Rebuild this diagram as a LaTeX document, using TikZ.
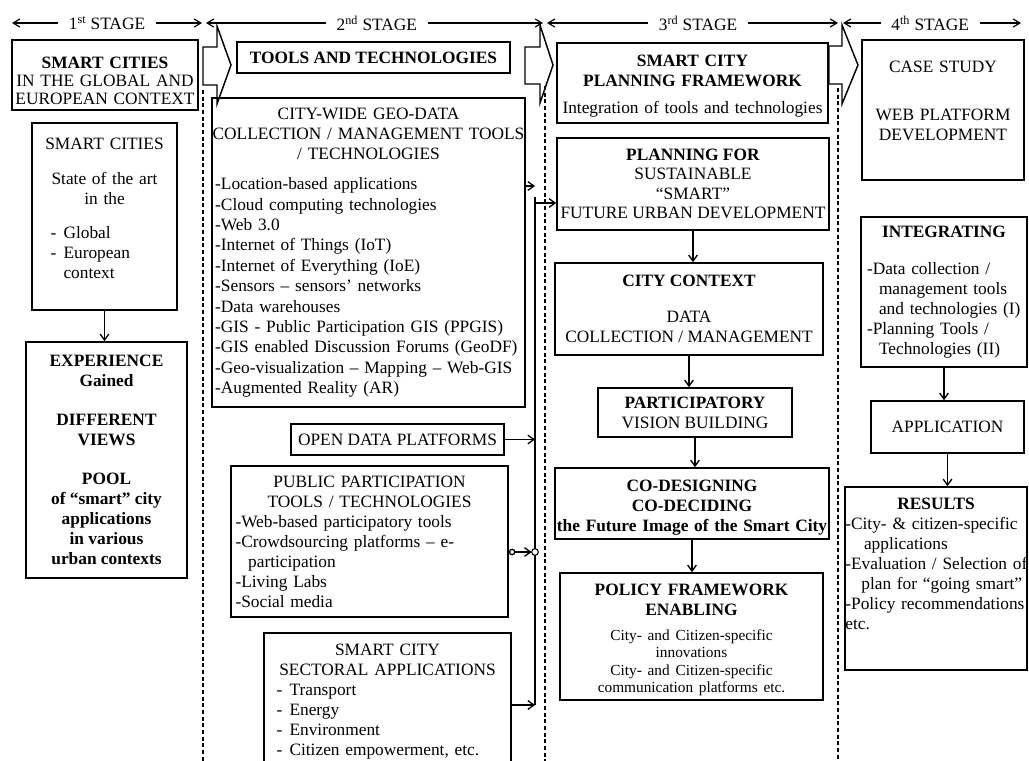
\documentclass[tikz,border=0pt]{standalone}
\usepackage{fontspec}
\setmainfont{Liberation Serif}
\usetikzlibrary{arrows.meta,calc}
\newcommand\dsh{-\hspace{0.42em}}
\newcommand\myc[1]{\makebox[\linewidth][c]{#1}\par}
\newcommand\myl[1]{\makebox[\linewidth][l]{#1}\par}
\newcommand\topgap[1]{\hrule height 0pt\vspace{#1}}
\newcommand\botgap[1]{\vspace{#1}\hrule height 0pt}
\begin{document}
\begin{tikzpicture}[x=0.75pt,y=-0.75pt,
  rect/.style n args={4}{minimum width={(#3-(#1))*0.75pt}, minimum height={(#4-(#2))*0.75pt}, at={({(#1+#3)/2},{(#2+#4)/2})}},
  box/.style={draw, line width=1.2pt, inner sep=0pt, font=\fontsize{13}{15}\selectfont},
  cbox/.style={box, align=center},
  conn/.style={line width=1pt},
  arr/.style={conn, -{Straight Barb[length=4.5pt,width=6.5pt]}},
  stage/.style={line width=0.9pt, {Straight Barb[length=5pt,width=6pt]}-{Straight Barb[length=5pt,width=6pt]}},
  stagelbl/.style={fill=white, inner xsep=8pt, inner ysep=1pt, font=\fontsize{13}{15}\selectfont},
  blk/.style={line width=1.1pt, line join=miter},
  sepline/.style={line width=1pt, dash pattern=on 3pt off 2pt},
  jcirc/.style={circle, draw, line width=0.8pt, fill=white, inner sep=0pt, minimum size=5pt}
]
\useasboundingbox (0,0) rectangle (1029,761);
\fill[white] (0,0) rectangle (1029,761);

% ---------- stage arrows ----------
\coordinate (s1a) at (12,23);  \coordinate (s1b) at (202,23);
\coordinate (s2a) at (206,23); \coordinate (s2b) at (543,23);
\coordinate (s3a) at (547,23); \coordinate (s3b) at (838,23);
\coordinate (s4a) at (843,23); \coordinate (s4b) at (1021,23);
\draw[stage] (s1a) -- node[stagelbl, pos=0.5] (st1) {1\textsuperscript{st} STAGE} (s1b);
\draw[stage] (s2a) -- node[stagelbl, pos=0.507] (st2) {2\textsuperscript{nd} STAGE} (s2b);
\draw[stage] (s3a) -- node[stagelbl, pos=0.519] (st3) {3\textsuperscript{rd} STAGE} (s3b);
\draw[stage] (s4a) -- node[stagelbl, pos=0.49] (st4) {4\textsuperscript{th} STAGE} (s4b);

% ---------- block arrows and separators ----------
\draw[blk] (203,47) -- (217,47) -- (217,26) -- (231,65) -- (217,104) -- (217,85) -- (203,85) -- cycle;
\draw[blk] (525,47) -- (540,47) -- (540,25) -- (553,65) -- (540,103) -- (540,84) -- (525,84) -- cycle;
\draw[blk] (829,46) -- (842,46) -- (842,25) -- (858,65) -- (842,104) -- (842,84) -- (829,84) -- cycle;
\draw[sepline] (203,90) -- (203,761);
\draw[sepline] (545,86) -- (545,761);
\draw[sepline] (838,88) -- (838,761);

% ---------- 1st stage ----------
\node[box, font=\fontsize{13}{13.5}\selectfont, text width=135pt, rect={12}{40}{198}{110}] (ctx)
  {\topgap{9pt}\myc{\bfseries SMART CITIES}\myc{IN THE GLOBAL AND}\myc{EUROPEAN CONTEXT}};
\node[box, text width=81pt, rect={32}{123}{177}{310}] (sota)
  {\myc{SMART CITIES}\vspace{11pt}\myc{State of the art}\myc{in the}\vspace{11pt}%
   \myl{\dsh Global}\myl{\dsh European}\myl{\phantom{\dsh}context}\botgap{12pt}};
\node[cbox, font=\fontsize{13}{15}\selectfont\bfseries, rect={26}{342}{187}{578}] (exp)
  {EXPERIENCE\\Gained\\[14pt]DIFFERENT\\VIEWS\\[14pt]POOL\\of “smart” city\\applications\\in various\\urban contexts};

% ---------- 2nd stage ----------
\node[cbox, font=\fontsize{13}{15}\selectfont\bfseries, rect={237}{42}{510}{73}] (tools) {TOOLS AND TECHNOLOGIES};
\node[box, font=\fontsize{13}{15.3}\selectfont, text width=230pt, rect={212}{98}{525}{407}] (geo)
  {\myc{CITY-WIDE GEO-DATA}\myc{COLLECTION / MANAGEMENT TOOLS}\myc{/ TECHNOLOGIES}\vspace{7pt}%
   \myl{-Location-based applications}\myl{-Cloud computing technologies}\myl{-Web 3.0}%
   \myl{-Internet of Things (IoT)}\myl{-Internet of Everything (IoE)}\myl{-Sensors – sensors’ networks}%
   \myl{-Data warehouses}\myl{-GIS - Public Participation GIS (PPGIS)}\myl{-GIS enabled Discussion Forums (GeoDF)}%
   \myl{-Geo-visualization – Mapping – Web-GIS}\myl{-Augmented Reality (AR)}};
\node[cbox, rect={291}{424}{504}{455}] (open) {OPEN DATA PLATFORMS};
\node[box, text width=201pt, rect={231}{466}{508}{617}] (pub)
  {\myc{PUBLIC PARTICIPATION}\myc{TOOLS / TECHNOLOGIES}\myl{-Web-based participatory tools}%
   \myl{-Crowdsourcing platforms – e-}\myl{\hspace*{9.5pt}participation}\myl{-Living Labs}\myl{-Social media}};
\node[box, draw=none, text width=166.5pt, rect={265}{634}{510}{761}] (sec)
  {\topgap{6pt}\myc{SMART CITY}\myc{SECTORAL APPLICATIONS}\myl{\dsh Transport}\myl{\dsh Energy}%
   \myl{\dsh Environment}\myl{\dsh Citizen empowerment, etc.}};
\draw[line width=1.2pt] (sec.south west) |- (sec.north east) -- (sec.south east);

% ---------- 3rd stage ----------
\node[box, text width=195pt, rect={557}{43}{828}{123}] (scpf)
  {\topgap{4.5pt}\myc{\bfseries SMART CITY}\myc{\bfseries PLANNING FRAMEWORK}\vspace{5pt}%
   \myc{Integration of tools and technologies}};
\node[cbox, font=\fontsize{13}{14.5}\selectfont, rect={557}{138}{829}{230}] (plan)
  {\textbf{PLANNING FOR}\\SUSTAINABLE\\“SMART”\\FUTURE URBAN DEVELOPMENT};
\node[cbox, rect={555}{263}{823}{355}] (city)
  {\textbf{CITY CONTEXT}\\[12pt]DATA\\COLLECTION / MANAGEMENT};
\node[cbox, rect={598}{388}{792}{437}] (part)
  {\textbf{PARTICIPATORY}\\VISION BUILDING};
\node[box, font=\fontsize{13}{15}\selectfont\bfseries, text width=200pt, rect={555}{468}{829}{539}] (co)
  {\topgap{7pt}\myc{CO-DESIGNING}\myc{CO-DECIDING}\myc{the Future Image of the Smart City}};
\node[box, text width=192pt, rect={560}{573}{823}{700}] (pol)
  {\topgap{5pt}\myc{\bfseries POLICY FRAMEWORK}\myc{\bfseries ENABLING}\vspace{6pt}%
   {\fontsize{11.5}{13}\selectfont\myc{City- and Citizen-specific}\myc{innovations}\myc{City- and Citizen-specific}%
   \myc{communication platforms etc.}}};

% ---------- 4th stage ----------
\node[box, text width=112.5pt, rect={862}{40}{1024}{180}] (case)
  {\myc{CASE STUDY}\vspace{21pt}\myc{WEB PLATFORM}\myc{DEVELOPMENT}\botgap{13pt}};
\node[box, text width=115.5pt, rect={861}{217}{1027}{367}] (integ)
  {\myc{\bfseries INTEGRATING}\vspace{13pt}\myl{-Data collection /}\myl{\hspace*{9pt}management tools}%
   \myl{\hspace*{9pt}and technologies (I)}\myl{-Planning Tools /}\myl{\hspace*{9pt}Technologies (II)}};
\node[cbox, rect={871}{401}{1024}{453}] (app) {APPLICATION};
\node[box, text width=136pt, rect={845}{487}{1027}{670}] (res)
  {\myc{\bfseries RESULTS}\myl{-City- \& citizen-specific}\myl{\hspace*{14pt}applications}%
   \myl{-Evaluation / Selection of}\myl{\hspace*{12pt}plan for “going smart”}%
   \myl{-Policy recommendations}\myl{etc.}\botgap{22pt}};

% ---------- connectors ----------
\draw[arr] (sota.south) -- (sota.south |- exp.north);

\coordinate (busin)  at (535,186);
\coordinate (bustop) at (535,197);
\coordinate (busout) at (535,203);
\coordinate (busbot) at (535,705);
\coordinate (pubj)   at (535,552);
\draw[conn] (bustop) -- (busbot);
\draw[arr] (geo.east |- busin) -- (busin);
\draw[arr] (busout) -- (busout -| plan.west);
\draw[arr] (open.east) -- (open.east -| bustop);
\draw[conn, {Circle[open,length=5pt]}-{Straight Barb[length=4.5pt,width=6.5pt]}, shorten >=2.5pt] (pub.east |- pubj) -- (pubj);
\node[jcirc] (pubjc) at (pubj) {};
\draw[arr] (sec.east |- busbot) -- (busbot);

\draw[arr] (plan.south) -- (plan.south |- city.north);
\draw[arr] (city.south) -- (city.south |- part.north);
\draw[arr] (part.south) -- (part.south |- co.north);
\draw[arr] (co.south) -- (co.south |- pol.north);

\draw[arr] (integ.south) -- (integ.south |- app.north);
\draw[arr] (app.south) -- (app.south |- res.north);
\end{tikzpicture}
\end{document}
